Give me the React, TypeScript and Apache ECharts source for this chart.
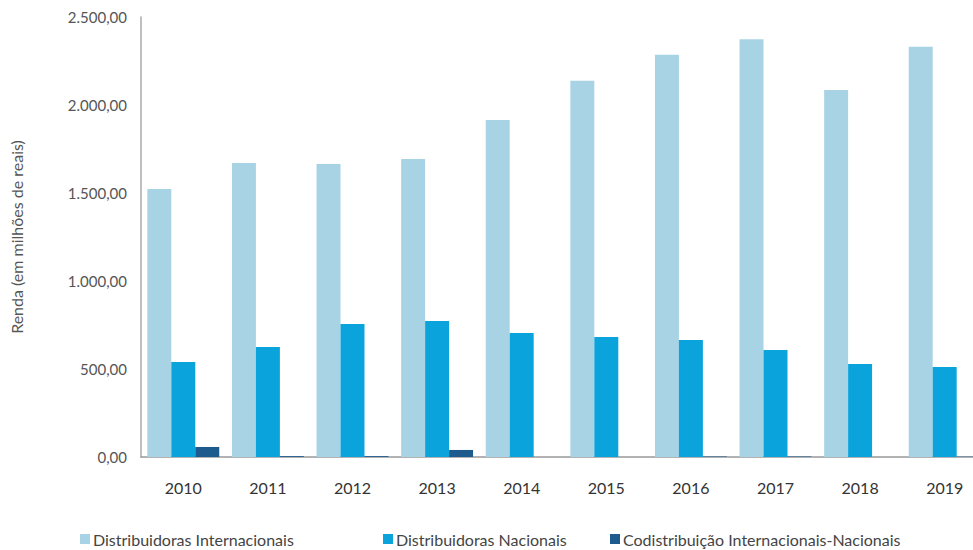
import React, { useEffect, useRef } from "react";
import * as echarts from "echarts";

const years = ["2010", "2011", "2012", "2013", "2014", "2015", "2016", "2017", "2018", "2019"];
const internacionais = [1523, 1670, 1665, 1693, 1915, 2138, 2286, 2373, 2085, 2331];
const nacionais = [540, 625, 756, 773, 705, 682, 665, 608, 528, 511];
const codistribuicao = [57, 5, 5, 40, 0, 0, 3, 3, 0, 2];
const seriesNames = [
  "Distribuidoras Internacionais",
  "Distribuidoras Nacionais",
  "Codistribuição Internacionais-Nacionais",
];
const colors = ["#a8d3e5", "#0aa3dc", "#1d5b8e"];

function fmt(v: number): string {
  const parts = v.toFixed(2).split(".");
  const int = parts[0].replace(/\B(?=(\d{3})+(?!\d))/g, ".");
  return int + "," + parts[1];
}

const FONT = "Lato";

export default function App() {
  const ref = useRef<HTMLDivElement>(null);
  useEffect(() => {
    document.body.style.margin = "0";
    document.body.style.overflow = "hidden";
    if (!ref.current) return;
    const chart = echarts.init(ref.current, null, { renderer: "svg" });
    const data = [internacionais, nacionais, codistribuicao];
    const legendLefts = [75, 378, 605];
    chart.setOption({
      animation: false,
      textStyle: { fontFamily: FONT },
      grid: { left: 136, top: 17, width: 851, height: 440, containLabel: false },
      legend: seriesNames.map((n, i) => ({
        data: [n],
        left: legendLefts[i],
        top: 526,
        icon: "rect",
        itemWidth: 10,
        itemHeight: 10,
        itemGap: 4,
        textStyle: { fontFamily: FONT, fontSize: 16, color: "#444", padding: [0, 0, 0, -2] },
      })),
      xAxis: {
        type: "category",
        data: years,
        axisLine: { lineStyle: { color: "#999", width: 1.5 } },
        axisTick: { show: false },
        axisLabel: { fontFamily: FONT, fontSize: 16, color: "#333", margin: 22 },
      },
      yAxis: {
        type: "value",
        min: 0,
        max: 2500,
        interval: 500,
        name: "Renda (em milhões de reais)",
        nameLocation: "middle",
        nameGap: 117,
        nameTextStyle: { fontFamily: FONT, fontSize: 16, color: "#555" },
        axisLine: { show: true, lineStyle: { color: "#aaa", width: 1.5 } },
        axisTick: { show: false },
        splitLine: { show: false },
        axisLabel: { fontFamily: FONT, fontSize: 15, color: "#555", margin: 14, formatter: (v: number) => fmt(v) },
      },
      series: seriesNames.map((n, i) => ({
        name: n,
        type: "bar",
        data: data[i],
        itemStyle: { color: colors[i] },
        barGap: "0%",
        barCategoryGap: "15%",
      })),
    });
    return () => chart.dispose();
  }, []);
  return <div ref={ref} style={{ width: 1000, height: 550 }} />;
}
